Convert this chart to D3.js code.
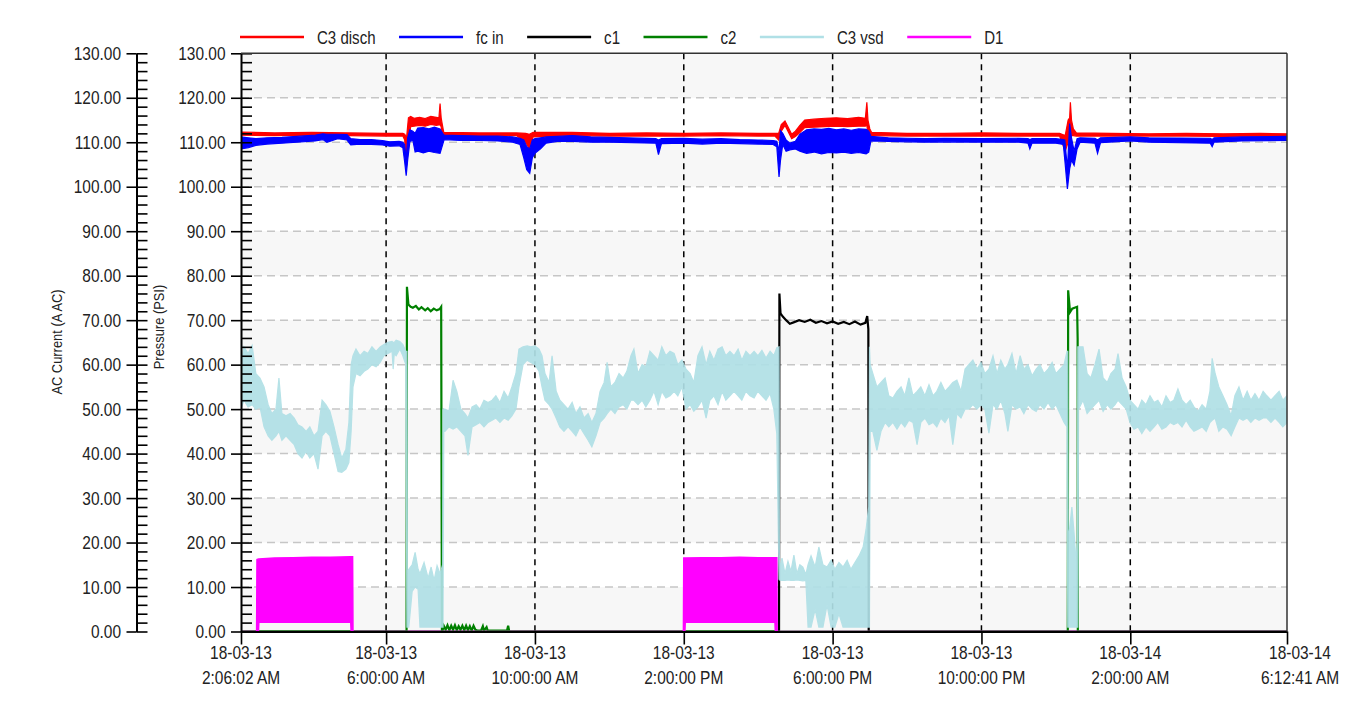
<!DOCTYPE html>
<html>
<head>
<meta charset="utf-8">
<script src="https://cdn.jsdelivr.net/npm/d3@7"></script>
<style>
  body { margin: 0; background: #fff; }
  svg text { font-family: "Liberation Sans", Arial, sans-serif; fill: #222; }
</style>
</head>
<body>
<svg id="chart" width="1353" height="704"></svg>
<script>
// times are hours counted from 18-03-13 00:00
const tStart = 2 + 6 / 60 + 2 / 3600;
const tEnd = 30 + 12 / 60 + 41 / 3600;

const xTickHours = [tStart, 6, 10, 14, 18, 22, 26, tEnd];
const xTickDates = ["18-03-13", "18-03-13", "18-03-13", "18-03-13", "18-03-13", "18-03-13", "18-03-14", "18-03-14"];
const xTickTimes = ["2:06:02 AM", "6:00:00 AM", "10:00:00 AM", "2:00:00 PM", "6:00:00 PM", "10:00:00 PM", "2:00:00 AM", "6:12:41 AM"];

const yMajor = [0, 10, 20, 30, 40, 50, 60, 70, 80, 90, 100, 110, 120, 130];
const yMinor = [0, 2, 4, 6, 8, 10, 12, 14, 16, 18, 20, 22, 24, 26, 28, 30, 32, 34, 36, 38, 40, 42, 44, 46, 48, 50,
  52, 54, 56, 58, 60, 62, 64, 66, 68, 70, 72, 74, 76, 78, 80, 82, 84, 86, 88, 90, 92, 94, 96, 98, 100,
  102, 104, 106, 108, 110, 112, 114, 116, 118, 120, 122, 124, 126, 128, 130];

const seriesNames = ["C3 disch", "fc in", "c1", "c2", "C3 vsd", "D1"];
const seriesColors = ["#ff0000", "#0000ff", "#000000", "#008000", "#b0e0e6", "#ff00ff"];

// noisy signals kept as [hour, low, high] envelopes
const c3Disch = [
  [2.10, 111.6, 112.3], [3.0, 111.5, 112.1], [4.0, 111.6, 112.2], [5.0, 111.5, 112.1], [6.0, 111.4, 112.0], [6.45, 111.4, 112.0],
  [6.50, 110.5, 111.8], [6.55, 104.8, 111.0], [6.60, 110.0, 115.5], [6.66, 113.5, 115.8], [6.75, 113.6, 115.4], [6.90, 113.8, 115.6],
  [7.05, 113.6, 115.3], [7.20, 114.0, 115.8], [7.35, 113.8, 115.6], [7.42, 113.9, 115.5], [7.45, 113.9, 118.7], [7.48, 113.5, 115.5],
  [7.51, 111.5, 114.0], [7.55, 111.5, 112.2],
  [8.5, 111.5, 112.1], [9.5, 111.5, 112.1], [9.75, 110.0, 112.0], [9.85, 108.5, 111.8], [9.95, 111.2, 112.2],
  [11, 111.5, 112.2], [12, 111.4, 112.0], [13, 111.4, 112.1], [14, 111.4, 112.0], [15, 111.5, 112.1], [16, 111.4, 112.0], [16.45, 111.4, 112.0],
  [16.55, 110.5, 112.0], [16.62, 112.5, 114.0], [16.72, 113.8, 114.8], [16.80, 112.5, 113.5], [16.90, 110.8, 111.8], [17.00, 111.3, 112.5],
  [17.12, 112.2, 113.8], [17.25, 113.3, 115.0], [17.5, 113.4, 115.2], [17.8, 113.5, 115.4], [18.1, 113.6, 115.5], [18.4, 113.5, 115.3],
  [18.7, 113.6, 115.6], [18.88, 113.6, 115.4], [18.92, 113.8, 119.0], [18.95, 112.0, 115.0], [19.0, 111.5, 113.0], [19.05, 111.5, 112.2],
  [20, 111.4, 112.0], [21, 111.4, 112.0], [22, 111.4, 112.1], [23, 111.4, 112.0], [24.1, 111.4, 112.0],
  [24.25, 108.0, 111.5], [24.33, 110.0, 115.0], [24.37, 113.0, 115.5], [24.39, 113.0, 119.0], [24.42, 111.5, 115.0], [24.47, 111.5, 113.0], [24.55, 111.4, 112.1],
  [25.5, 111.4, 112.0], [26.5, 111.4, 111.9], [27.5, 111.4, 112.0], [28.5, 111.3, 111.9], [29.5, 111.4, 112.0], [30.21, 111.4, 111.9]
];

const fcIn = [
  [2.10, 108.5, 111.2], [2.30, 108.8, 111.0], [2.5, 109.3, 110.8], [2.8, 109.6, 111.0], [3.2, 109.8, 111.1], [3.6, 110.0, 111.3],
  [4.1, 110.3, 111.6], [4.3, 110.6, 111.9], [4.41, 110.0, 111.8], [4.7, 110.8, 111.8], [4.95, 110.5, 111.7], [5.05, 109.4, 110.8],
  [5.3, 109.6, 110.6], [5.6, 109.5, 110.6], [5.9, 109.4, 110.4], [6.1, 109.1, 110.1], [6.35, 109.2, 110.2], [6.45, 108.8, 110.0],
  [6.50, 105.5, 109.5], [6.54, 102.5, 106.0], [6.58, 106.0, 111.0], [6.64, 110.2, 112.8], [6.72, 110.4, 112.5], [6.78, 107.8, 112.0],
  [6.85, 108.0, 113.2], [7.0, 107.6, 113.3], [7.15, 108.0, 113.0], [7.3, 107.7, 113.4], [7.45, 107.5, 113.0], [7.52, 109.5, 112.0], [7.56, 110.6, 111.6],
  [8.0, 110.4, 111.5], [8.5, 110.4, 111.4], [9.0, 110.3, 111.4], [9.4, 110.0, 111.2], [9.6, 109.5, 110.9],
  [9.70, 106.5, 110.5], [9.78, 103.8, 109.0], [9.86, 103.0, 108.5], [9.93, 106.5, 110.5], [10.0, 107.5, 110.8], [10.15, 108.5, 111.0],
  [10.3, 109.8, 111.2], [10.6, 110.2, 111.3], [11.0, 110.2, 111.5], [11.5, 110.0, 111.2], [12.0, 110.0, 111.1],
  [13.25, 109.8, 110.8], [13.32, 107.2, 110.5], [13.4, 109.7, 110.8], [14.0, 109.8, 110.9], [14.5, 109.6, 110.7], [15.0, 109.8, 110.8],
  [15.5, 109.7, 110.6], [16.0, 109.6, 110.5], [16.4, 109.5, 110.4],
  [16.50, 109.0, 110.2], [16.56, 102.2, 108.0], [16.60, 106.0, 112.6], [16.66, 109.5, 112.0], [16.75, 108.0, 110.5], [16.85, 108.3, 109.8],
  [17.0, 108.5, 110.2], [17.12, 108.0, 111.8], [17.3, 107.5, 112.8], [17.5, 107.8, 113.0], [17.7, 107.4, 112.9], [17.9, 107.7, 113.1],
  [18.1, 107.6, 112.8], [18.3, 107.8, 113.0], [18.5, 107.5, 112.7], [18.7, 107.7, 113.0], [18.9, 107.4, 112.9], [18.97, 107.8, 112.5],
  [19.03, 110.3, 111.3], [19.5, 110.2, 111.0], [20.0, 110.1, 110.9], [20.5, 110.0, 110.8], [21.0, 110.1, 110.9], [22.0, 110.0, 110.8],
  [23.0, 110.0, 110.9], [23.25, 109.8, 110.8], [23.3, 108.5, 110.6], [23.36, 109.8, 110.8], [24.0, 109.8, 110.8], [24.2, 109.5, 110.6],
  [24.24, 106.0, 110.5], [24.31, 99.5, 104.0], [24.37, 104.0, 114.2], [24.42, 106.0, 111.0], [24.49, 104.8, 108.0], [24.57, 108.5, 110.8],
  [24.65, 110.0, 111.0], [25.05, 109.8, 110.9], [25.12, 107.5, 110.5], [25.2, 109.9, 111.0], [26, 110.3, 111.2], [26.5, 110.0, 111.0],
  [28.15, 109.8, 110.9], [28.2, 109.0, 110.6], [28.25, 110.0, 111.0], [29, 110.3, 111.2], [30.21, 110.4, 111.3]
];

// [hour, value]
const c1 = [
  [2.10, 0], [16.56, 0], [16.57, 76.0], [16.60, 71.5], [16.66, 70.8], [16.75, 70.0], [16.85, 69.2], [16.95, 69.5], [17.1, 70.0],
  [17.25, 69.6], [17.4, 70.1], [17.55, 69.4], [17.7, 69.8], [17.85, 69.3], [18.0, 69.7], [18.15, 69.2], [18.3, 69.6], [18.45, 69.1],
  [18.6, 69.7], [18.75, 69.0], [18.88, 69.4], [18.93, 70.9], [18.96, 68.0], [18.97, 0], [30.21, 0]
];

const c2 = [
  [2.10, 0], [6.55, 0], [6.56, 77.5], [6.60, 73.5], [6.66, 73.0], [6.72, 72.8], [6.80, 73.2], [6.88, 72.4], [6.95, 72.9], [7.05, 72.2],
  [7.12, 72.7], [7.2, 72.0], [7.28, 72.6], [7.36, 72.2], [7.44, 72.5], [7.48, 73.0], [7.50, 0],
  [7.52, 0.3], [7.55, 1.3], [7.6, 0.4], [7.65, 1.4], [7.7, 0.3], [7.75, 1.3], [7.8, 0.4], [7.85, 1.4], [7.9, 0.3], [7.95, 1.2], [8.0, 0.4],
  [8.05, 1.3], [8.1, 0.3], [8.15, 1.3], [8.2, 0.3], [8.25, 1.2], [8.3, 0.2], [8.35, 1.3], [8.4, 0.4], [8.45, 0.2], [8.55, 0.2], [8.6, 1.2],
  [8.63, 0.2], [8.7, 1.0], [8.73, 0.2], [9.25, 0.2], [9.28, 1.3], [9.31, 0],
  [24.32, 0], [24.33, 76.7], [24.38, 71.8], [24.44, 72.6], [24.57, 73.0], [24.585, 65.9], [24.59, 0], [30.21, 0]
];

const c3Vsd = [
  [2.10, 50, 60], [2.18, 52, 64], [2.29, 50.5, 62.5], [2.40, 51, 64.3], [2.50, 50, 58], [2.61, 50.5, 57], [2.72, 46, 55], [2.83, 44, 51],
  [2.93, 43, 49], [3.04, 44, 50], [3.12, 45, 57], [3.20, 43, 49], [3.31, 44, 48.5], [3.42, 43, 49], [3.53, 42, 48], [3.63, 40, 46.5],
  [3.74, 39, 46], [3.85, 40.5, 45], [3.95, 39, 46], [4.06, 40, 44], [4.17, 36.5, 45], [4.28, 44, 52], [4.38, 45, 51], [4.49, 44, 49.5],
  [4.60, 40, 46], [4.71, 36, 42], [4.81, 35.8, 39], [4.92, 36.5, 41], [5.00, 38, 47], [5.06, 45, 60], [5.11, 55, 62], [5.19, 58, 63.5],
  [5.30, 57.5, 62], [5.41, 58.5, 63], [5.51, 59, 62.5], [5.62, 60, 64], [5.73, 59.5, 63], [5.84, 60.5, 64], [5.94, 62, 64.5],
  [6.05, 62.5, 65], [6.16, 63, 65.2], [6.19, 59, 65], [6.22, 62.5, 65], [6.27, 62, 65.5], [6.37, 63.5, 65.2], [6.45, 62, 64.5], [6.53, 60, 63],
  [6.56, 1, 63], [6.57, 1, 13], [6.61, 1, 14], [6.70, 9, 15], [6.78, 10, 17.8], [6.86, 9.5, 14], [6.91, 1, 13], [7.02, 1, 15.5], [7.13, 1, 12],
  [7.21, 1, 14.5], [7.29, 1, 11.5], [7.37, 1, 14.8], [7.45, 1, 13], [7.52, 1, 15], [7.53, 1, 50], [7.55, 45, 50],
  [7.58, 45, 50], [7.69, 46, 49.5], [7.80, 45.5, 56.5], [7.90, 46, 54], [8.01, 45, 50], [8.12, 44, 49], [8.20, 39.6, 48], [8.31, 46, 50.5],
  [8.42, 46.5, 51], [8.52, 47, 50], [8.63, 46, 52], [8.74, 47, 51.5], [8.85, 47.5, 52], [8.95, 48, 53], [9.06, 47, 51.5], [9.17, 48, 54],
  [9.28, 47.5, 52.5], [9.38, 48.5, 55], [9.49, 50, 58], [9.57, 55, 63.5], [9.68, 60, 64], [9.79, 61, 64.2], [9.89, 60.5, 64], [10.00, 60, 64.2],
  [10.11, 58.5, 63.5], [10.19, 55, 62], [10.27, 52, 58], [10.38, 51, 56], [10.46, 50, 62], [10.57, 48, 54], [10.67, 46, 52], [10.78, 45, 51],
  [10.89, 46, 50], [11.00, 45, 51.5], [11.10, 44, 49], [11.21, 46, 50.5], [11.32, 44.5, 48], [11.43, 43, 49], [11.53, 41.5, 47], [11.64, 44, 49],
  [11.75, 47, 54], [11.86, 48, 56], [11.94, 49, 60.5], [12.04, 50, 55], [12.15, 49, 56], [12.26, 50.5, 58], [12.37, 51, 57], [12.47, 50, 58.5],
  [12.58, 52, 62], [12.66, 52, 63.5], [12.77, 51, 58], [12.88, 52, 60], [12.98, 50.5, 59.5], [13.09, 52, 63], [13.20, 54, 62], [13.31, 51, 61],
  [13.41, 54, 64], [13.52, 52.5, 62], [13.63, 53, 63], [13.74, 54, 62.5], [13.84, 53, 60], [13.95, 55, 61], [14.06, 50, 59], [14.17, 51, 58],
  [14.27, 49.5, 56], [14.38, 50.5, 62], [14.49, 52, 64], [14.60, 48, 60], [14.70, 52, 63], [14.81, 53, 61], [14.92, 51, 63.5], [15.03, 54, 64],
  [15.13, 52, 62], [15.24, 53, 63], [15.35, 54, 62], [15.46, 53, 63.5], [15.56, 52, 61], [15.67, 54, 63], [15.78, 53, 62], [15.89, 52.5, 63],
  [15.99, 54, 62], [16.10, 53, 63.2], [16.21, 52, 61.5], [16.32, 53.5, 63], [16.42, 50, 62], [16.50, 44.5, 63.8],
  [16.56, 11.8, 64], [16.57, 11.6, 14], [16.64, 11.5, 16.5], [16.72, 11.5, 13], [16.80, 11.6, 15.8], [16.88, 11.5, 13.5], [16.96, 11.5, 17.2],
  [17.04, 11.6, 13], [17.12, 11.5, 15], [17.20, 11.4, 14.5], [17.28, 11.5, 12.8], [17.34, 1, 15], [17.42, 1, 17], [17.53, 5, 14.5],
  [17.63, 1, 19], [17.74, 1, 15], [17.85, 6, 14.5], [17.96, 1, 16], [18.06, 1, 14], [18.17, 4, 15.5], [18.28, 1, 14.5], [18.39, 1, 16],
  [18.49, 1, 14], [18.60, 1, 15.5], [18.71, 1, 17], [18.82, 1, 19], [18.90, 1, 23], [18.97, 1, 28], [18.99, 1, 64], [19.01, 45, 60],
  [19.08, 45, 58], [19.19, 40.7, 55], [19.30, 45, 56], [19.41, 47, 57], [19.51, 46, 53], [19.62, 47, 52.5], [19.73, 45.5, 54], [19.84, 47, 55],
  [19.94, 46, 53], [20.05, 47.5, 57], [20.16, 47, 53], [20.27, 42, 54], [20.37, 47, 55], [20.48, 48, 53], [20.59, 46.5, 55.5], [20.70, 47, 53],
  [20.80, 46, 54], [20.91, 48, 56], [21.02, 47, 54], [21.13, 48.5, 55], [21.23, 42, 56], [21.34, 49, 56.5], [21.45, 48, 54], [21.56, 50, 59],
  [21.66, 50, 60], [21.77, 51, 61], [21.88, 50, 59], [21.99, 51, 60.5], [22.09, 50, 58], [22.20, 44.6, 59], [22.31, 51, 62], [22.42, 50, 58],
  [22.52, 52, 61], [22.63, 49, 59], [22.71, 45, 60], [22.82, 51, 62.5], [22.93, 50, 58], [23.04, 50.5, 62], [23.14, 49, 59], [23.25, 51, 60],
  [23.36, 50, 57.5], [23.47, 49.5, 59], [23.57, 51, 60], [23.68, 50, 58], [23.79, 51.5, 59], [23.90, 50, 60.5], [24.00, 51, 58], [24.11, 49, 59],
  [24.22, 47, 60], [24.30, 46, 63],
  [24.32, 1, 63], [24.33, 1, 20], [24.43, 1, 28], [24.49, 1, 22], [24.54, 1, 16], [24.58, 1, 20], [24.59, 1, 64], [24.61, 50, 64],
  [24.73, 52, 64], [24.84, 49, 58], [24.94, 50, 57], [25.05, 51, 60], [25.16, 52, 63.5], [25.27, 49.5, 57], [25.38, 51, 56], [25.48, 50, 58],
  [25.59, 51, 59], [25.67, 52, 62.5], [25.78, 51, 57], [25.89, 50, 55], [25.99, 47, 52], [26.10, 45.5, 51], [26.21, 46, 50], [26.31, 44.5, 52],
  [26.42, 46, 51], [26.53, 45, 53], [26.64, 46, 51.5], [26.74, 47, 52], [26.85, 45.5, 50.5], [26.96, 46, 53], [27.07, 47, 51.5], [27.17, 46.5, 52],
  [27.28, 47, 54.5], [27.39, 46, 52], [27.50, 47.5, 51], [27.61, 46, 52], [27.71, 45, 50.5], [27.82, 45.5, 49.5], [27.93, 46, 51], [28.04, 45, 50],
  [28.14, 47, 54], [28.20, 47.5, 61.4], [28.28, 48, 58], [28.38, 45, 55], [28.49, 46, 53], [28.60, 45.5, 51], [28.71, 44, 48.5], [28.81, 46, 53],
  [28.92, 48, 55], [29.03, 47.5, 52], [29.14, 48, 54], [29.24, 47, 52], [29.35, 48, 53.5], [29.46, 47.5, 52], [29.57, 48, 54], [29.67, 48, 53],
  [29.78, 47, 52], [29.89, 48, 53], [30.00, 47, 54], [30.10, 46, 52], [30.21, 47, 53]
];

const d1 = [
  [2.10, 0, 0], [2.52, 0, 0], [2.53, 0, 16.2], [2.57, 0, 16.3], [2.58, 2.1, 16.3], [3.0, 2.1, 16.5], [3.5, 2.1, 16.6], [4.0, 2.1, 16.7],
  [4.5, 2.1, 16.7], [5.05, 2.1, 16.8], [5.06, 0, 16.8], [5.10, 0, 16.8], [5.11, 0, 0],
  [13.99, 0, 0], [14.00, 0, 16.5], [14.03, 0, 16.5], [14.04, 2.1, 16.5], [14.5, 2.1, 16.6], [15.0, 2.1, 16.6], [15.5, 2.1, 16.7],
  [16.0, 2.1, 16.6], [16.45, 2.1, 16.6], [16.46, 0, 16.6], [16.50, 0, 16.6], [16.51, 0, 0], [30.21, 0, 0]
];

const svg = d3.select("#chart");
const plotLeft = 241, plotRight = 1287, plotTop = 53.3, plotBottom = 631.5;
const SX = 0.86; // glyphs in the picture are narrow

const x = d3.scaleLinear().domain([tStart, tEnd]).range([plotLeft, plotRight]);
const y = d3.scaleLinear().domain([0, 130]).range([plotBottom, plotTop]);

function addText(g, px, py, str, anchor, size, rot) {
  return g.append("text")
    .attr("transform", `translate(${px},${py})` + (rot ? ` rotate(${rot})` : "") + ` scale(${SX},1)`)
    .attr("text-anchor", anchor)
    .style("font-size", size + "px")
    .text(str);
}

// plot background with alternating bands
svg.append("rect").attr("x", plotLeft).attr("y", plotTop)
  .attr("width", plotRight - plotLeft).attr("height", plotBottom - plotTop).attr("fill", "#fff");
svg.selectAll("rect.band")
  .data(yMajor.filter((d, i) => i % 2 === 0 && d < 130))
  .enter().append("rect")
  .attr("class", "band")
  .attr("x", plotLeft)
  .attr("width", plotRight - plotLeft)
  .attr("y", d => y(d + 10))
  .attr("height", d => y(d) - y(d + 10))
  .attr("fill", "#f7f7f7");

// grid
svg.selectAll("line.hgrid")
  .data(yMajor.filter(d => d > 0 && d < 130))
  .enter().append("line")
  .attr("class", "hgrid")
  .attr("x1", plotLeft).attr("x2", plotRight)
  .attr("y1", d => y(d)).attr("y2", d => y(d))
  .attr("stroke", "#c6c6c6").attr("stroke-width", 1.5).attr("stroke-dasharray", "8,5");

svg.selectAll("line.vgrid")
  .data(xTickHours.slice(1, -1))
  .enter().append("line")
  .attr("class", "vgrid")
  .attr("x1", d => x(d)).attr("x2", d => x(d))
  .attr("y1", plotTop).attr("y2", plotBottom)
  .attr("stroke", "#000").attr("stroke-width", 1.5).attr("stroke-dasharray", "6,5");

// series
svg.append("clipPath").attr("id", "plotclip")
  .append("rect").attr("x", plotLeft).attr("y", plotTop - 2)
  .attr("width", plotRight - plotLeft).attr("height", plotBottom - plotTop + 2);
const plot = svg.append("g").attr("clip-path", "url(#plotclip)");

const band = d3.area().x(d => x(d[0])).y0(d => y(d[1])).y1(d => y(d[2]));
const line = d3.line().x(d => x(d[0])).y(d => y(d[1]));

plot.append("path").datum(c3Disch).attr("d", band)
  .attr("fill", seriesColors[0]).attr("stroke", seriesColors[0]).attr("stroke-width", 1.2);
plot.append("path").datum(fcIn).attr("d", band)
  .attr("fill", seriesColors[1]).attr("stroke", seriesColors[1]).attr("stroke-width", 1.2);
plot.append("path").datum(c1).attr("d", line)
  .attr("fill", "none").attr("stroke", seriesColors[2]).attr("stroke-width", 2.2);
plot.append("path").datum(c2).attr("d", line)
  .attr("fill", "none").attr("stroke", seriesColors[3]).attr("stroke-width", 2.2);
plot.append("path").datum(c3Vsd).attr("d", band)
  .attr("fill", seriesColors[4]).attr("stroke", seriesColors[4]).attr("stroke-width", 1.2).attr("opacity", 0.92);
plot.append("path").datum(d1).attr("d", band)
  .attr("fill", seriesColors[5]).attr("stroke", seriesColors[5]).attr("stroke-width", 1.5);

// axes
function styleAxis(g, domainWidth) {
  g.selectAll(".tick line").attr("stroke", "#000").attr("stroke-width", 1.6);
  g.select(".domain").attr("stroke", "#000").attr("stroke-width", domainWidth);
}

const fmt = d3.format(".2f");

[plotLeft, 136.5].forEach(ax => {
  const gMaj = svg.append("g").attr("transform", `translate(${ax},0)`)
    .call(d3.axisLeft(y).tickValues(yMajor).tickSize(10).tickSizeOuter(0).tickFormat(""));
  styleAxis(gMaj, 2);
  const gMin = svg.append("g").attr("transform", `translate(${ax},0)`)
    .call(d3.axisRight(y).tickValues(yMinor).tickSize(11).tickSizeOuter(0).tickFormat(""));
  styleAxis(gMin, 0);
  gMin.select(".domain").remove();
  yMajor.forEach(v => addText(svg, ax - 15.5, y(v) + 6.5, fmt(v), "end", 18));
});

const gx = svg.append("g").attr("transform", `translate(0,${plotBottom})`)
  .call(d3.axisBottom(x).tickValues(xTickHours).tickSize(13).tickSizeOuter(0).tickFormat(""));
styleAxis(gx, 2.2);

xTickHours.forEach((t, i) => {
  const shift = i === xTickHours.length - 1 ? 13 : 0;
  addText(svg, x(t) + shift, 659, xTickDates[i], "middle", 18);
  addText(svg, x(t) + shift, 684, xTickTimes[i], "middle", 18);
});

// frame top and right
svg.append("line").attr("x1", plotLeft).attr("x2", plotRight).attr("y1", plotTop).attr("y2", plotTop)
  .attr("stroke", "#333").attr("stroke-width", 1.5);
svg.append("line").attr("x1", plotRight).attr("x2", plotRight).attr("y1", plotTop).attr("y2", plotBottom)
  .attr("stroke", "#333").attr("stroke-width", 1.5);

// axis titles
addText(svg, 62, 342, "AC Current (A AC)", "middle", 15, -90);
addText(svg, 164, 327, "Pressure (PSI)", "middle", 15, -90);

// legend
let lx = 240;
seriesNames.forEach((name, i) => {
  svg.append("line")
    .attr("x1", lx).attr("x2", lx + 64)
    .attr("y1", 37).attr("y2", 37)
    .attr("stroke", seriesColors[i]).attr("stroke-width", 2.5);
  const t = addText(svg, lx + 77, 44, name, "start", 17.5);
  lx = lx + 77 + t.node().getComputedTextLength() * SX + 23.5;
});
</script>
</body>
</html>
